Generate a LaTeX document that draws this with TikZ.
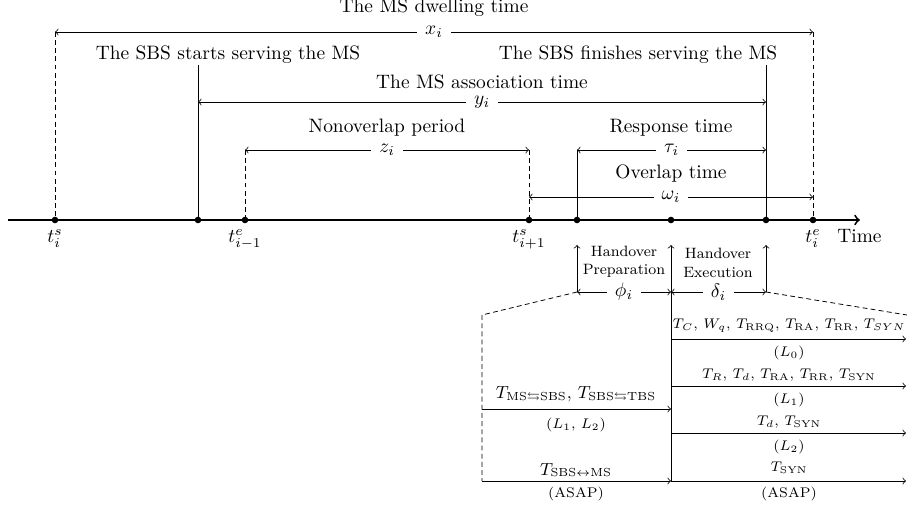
\RequirePackage{fix-cm}
\documentclass[tikz,border=0pt]{standalone}
\usepackage{amsmath,amssymb}
\begin{document}
\begin{tikzpicture}[x=0.515pt,y=-0.515pt,
  lbl/.style={fill=white, inner xsep=4pt, inner ysep=1pt},
  txt/.style={inner sep=0pt},
  vdash/.style={dash pattern=on 2.5pt off 1.7pt},
  mid lbl/.style={inner sep=0pt, font=\small},
  tiny lbl/.style={inner sep=0pt, font=\fontsize{7.2}{8.6}\selectfont},
  ho lbl/.style={inner sep=0pt, align=center, font=\fontsize{7.7}{9.4}\selectfont},
  dimarrow/.style={<->},
]
\useasboundingbox (0,0) rectangle (907,508);

% timeline points
\coordinate (ts) at (55,220);
\coordinate (sbs) at (198,220);
\coordinate (te1) at (245,220);
\coordinate (ts1) at (529,220);
\coordinate (hp) at (577,220);
\coordinate (hm) at (671,220);
\coordinate (sbf) at (766,220);
\coordinate (te) at (813,220);
\coordinate (axL) at (8,220);
\coordinate (axR) at (860,220);

% top coordinates
\coordinate (xL) at (55,32);
\coordinate (xR) at (813,32);
\coordinate (sbsT) at (198,65);
\coordinate (sbfT) at (766,65);
\coordinate (yL) at (198,102);
\coordinate (yR) at (766,102);
\coordinate (zL) at (245,150);
\coordinate (zR) at (529,150);
\coordinate (tauL) at (577,150);
\coordinate (tauR) at (766,150);
\coordinate (wL) at (529,197);
\coordinate (wR) at (813,197);

% vertical markers
\draw[vdash] (xL) -- (ts);
\draw[vdash] (xR) -- (te);
\draw (sbsT) -- (sbs);
\draw (sbfT) -- (sbf);
\draw[vdash] (zL) -- (te1);
\draw[vdash] (zR) -- (ts1);
\draw (tauL) -- (hp);

% dimension arrows
\draw[dimarrow] (xL) -- node[lbl] (xi) {$x_i$} (xR);
\draw[dimarrow] (yL) -- node[lbl] (yi) {$y_i$} (yR);
\draw[dimarrow] (zL) -- node[lbl] (zi) {$z_i$} (zR);
\draw[dimarrow] (tauL) -- node[lbl] (taui) {$\tau_i$} (tauR);
\draw[dimarrow] (wL) -- node[lbl] (wi) {$\omega_i$} (wR);

% texts
\node[txt] (tdw) at (434,8) {The MS dwelling time};
\node[txt] (tst) at (228,55) {The SBS starts serving the MS};
\node[txt] (tfi) at (638,55) {The SBS finishes serving the MS};
\node[txt] (tas) at (482,82) {The MS association time};
\node[txt] (tno) at (387,128) {Nonoverlap period};
\node[txt] (trt) at (671,128) {Response time};
\node[txt] (tov) at (671,174) {Overlap time};

% axis
\draw[line width=1pt,->] (axL) -- (axR);
\foreach \p in {ts,sbs,te1,ts1,hp,hm,sbf,te} \fill (\p) circle (1.7pt);
\node[txt] (lts) at (55,239) {$t_i^s$};
\node[txt] (lte1) at (245,239) {$t_{i-1}^e$};
\node[txt] (lts1) at (529,239) {$t_{i+1}^s$};
\node[txt] (lte) at (813,239) {$t_i^e$};
\node[txt, anchor=west] (ltime) at (837,236) {Time};

% handover
\coordinate (hpT) at (577,245);
\coordinate (hmT) at (671,245);
\coordinate (sbT) at (766,245);
\coordinate (hpB) at (577,292);
\coordinate (hmB) at (671,481);
\coordinate (sbB) at (766,292);
\coordinate (hmM) at (671,292);
\draw[->] (hpB) -- (hpT);
\draw[->] (hmB) -- (hmT);
\draw[->] (sbB) -- (sbT);
\node[ho lbl] (thp) at (624,262) {Handover\\Preparation};
\node[ho lbl] (the) at (718,263) {Handover\\Execution};
\draw[dimarrow] (hpB) -- node[lbl] (phi) {$\phi_i$} (hmM);
\draw[dimarrow] (hmM) -- node[lbl] (delta) {$\delta_i$} (sbB);

% dashed zoom lines
\coordinate (cL) at (482,315);
\coordinate (cLb) at (482,481);
\coordinate (cR) at (907,315);
\draw[vdash] (hpB) -- (cL) -- (cLb);
\draw[vdash] (sbB) -- (cR);

% left arrows
\coordinate (l1s) at (482,409);
\coordinate (l1e) at (671,409);
\coordinate (l2e) at (671,481);
\draw[->] (l1s) -- (l1e);
\draw[->] (cLb) -- (l2e);
\node[mid lbl] (tl1) at (576,395) {$T_{\mathrm{MS}\leftrightarrows\mathrm{SBS}}$, $T_{\mathrm{SBS}\leftrightarrows\mathrm{TBS}}$};
\node[tiny lbl] (tl1b) at (576,425) {($L_1$, $L_2$)};
\node[mid lbl] (tl2) at (576,470) {$T_{\mathrm{SBS}\leftrightarrow\mathrm{MS}}$};
\node[tiny lbl] (tl2b) at (576,494) {(ASAP)};

% right arrows
\coordinate (r0s) at (671,339);
\coordinate (r0e) at (906,339);
\coordinate (r1s) at (671,386);
\coordinate (r1e) at (906,386);
\coordinate (r2s) at (671,433);
\coordinate (r2e) at (906,433);
\coordinate (r3e) at (906,481);
\draw[->] (r0s) -- (r0e);
\draw[->] (r1s) -- (r1e);
\draw[->] (r2s) -- (r2e);
\draw[->] (hmB) -- (r3e);
\node[tiny lbl] (tr0) at (789,326) {$T_C$, $W_q$, $T_{\mathrm{RRQ}}$, $T_{\mathrm{RA}}$, $T_{\mathrm{RR}}$, $T_{SYN}$};
\node[tiny lbl] (tr0b) at (789,353) {($L_0$)};
\node[tiny lbl] (tr1) at (789,375) {$T_R$, $T_d$, $T_{\mathrm{RA}}$, $T_{\mathrm{RR}}$, $T_{\mathrm{SYN}}$};
\node[tiny lbl] (tr1b) at (789,400) {($L_1$)};
\node[tiny lbl] (tr2) at (789,422) {$T_d$, $T_{\mathrm{SYN}}$};
\node[tiny lbl] (tr2b) at (789,447) {($L_2$)};
\node[tiny lbl] (tr3) at (789,468) {$T_{\mathrm{SYN}}$};
\node[tiny lbl] (tr3b) at (789,494) {(ASAP)};
\end{tikzpicture}
\end{document}
